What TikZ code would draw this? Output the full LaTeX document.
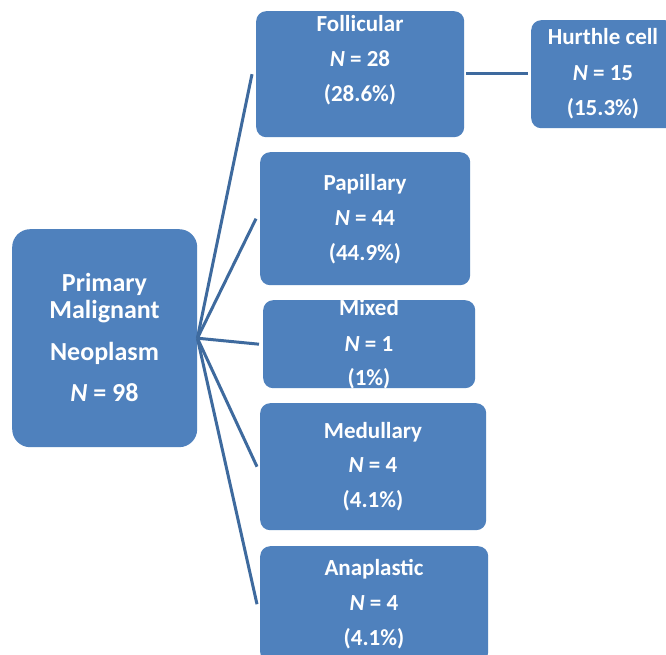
\documentclass[tikz,border=0pt]{standalone}
\usepackage{fontspec}
\setmainfont{Carlito}
\usetikzlibrary{calc}
\definecolor{boxblue}{RGB}{79,129,189}
\definecolor{lineblue}{RGB}{62,106,158}
\tikzset{
  box/.style={rectangle, rounded corners=10pt, fill=boxblue, draw=none, inner sep=0pt, anchor=north west},
  mainbox/.style={box, rounded corners=18pt},
  txt/.style={anchor=base, inner sep=0pt, text=white, font=\fontsize{23}{27}\selectfont\bfseries},
  maintxt/.style={txt, font=\fontsize{26}{30}\selectfont\bfseries},
  conn/.style={draw=lineblue, line width=3pt}
}
\begin{document}
\begin{tikzpicture}[x=1pt, y=-1pt]
\clip (0,0) rectangle (666,655);
\fill[white] (0,0) rectangle (666,655);
% boxes
\node[mainbox, minimum width=185pt, minimum height=218pt] (main) at (12,229) {};
\node[box, minimum width=208pt, minimum height=126pt] (fol) at (256,11) {};
\node[box, minimum width=144pt, minimum height=108pt] (hur) at (531,20) {};
\node[box, minimum width=210pt, minimum height=133pt] (pap) at (260,152) {};
\node[box, minimum width=212pt, minimum height=88pt] (mix) at (263,300) {};
\node[box, minimum width=226pt, minimum height=127pt] (med) at (260,403) {};
\node[box, minimum width=228pt, minimum height=116pt] (ana) at (260,546) {};
% connectors
\coordinate (hub) at (main.east);
\draw[conn] (hub) -- ($(fol.west)+(-4,0)$);
\draw[conn] (hub) -- ($(pap.west)+(-4,0)$);
\draw[conn] (hub) -- ($(mix.west)+(-4,0)$);
\draw[conn] (hub) -- ($(med.west)+(-3,0)$);
\draw[conn] (hub) -- ($(ana.west)+(-3,0)$);
\draw[conn] ($(fol.east)+(2,-1)$) -- ($(hur.west)+(-3,-1)$);
% main text
\node[maintxt] (m1) at (104.5,291) {Primary};
\node[maintxt] (m2) at (104.5,318) {Malignant};
\node[maintxt] (m3) at (104.5,360) {Neoplasm};
\node[maintxt] (m4) at (104.5,401) {\textit{N} = 98};
% follicular
\node[txt] (f1) at (360,32) {Follicular};
\node[txt] (f2) at (360,67) {\textit{N} = 28};
\node[txt] (f3) at (360,102) {(28.6\%)};
% hurthle
\node[txt] (h1) at (603,45) {Hurthle cell};
\node[txt] (h2) at (603,81) {\textit{N} = 15};
\node[txt] (h3) at (603,116) {(15.3\%)};
% papillary
\node[txt] (p1) at (365,190) {Papillary};
\node[txt] (p2) at (365,225) {\textit{N} = 44};
\node[txt] (p3) at (365,260) {(44.9\%)};
% mixed
\node[txt] (x1) at (369,315) {Mixed};
\node[txt] (x2) at (369,351) {\textit{N} = 1};
\node[txt] (x3) at (369,385) {(1\%)};
% medullary
\node[txt] (d1) at (373,438) {Medullary};
\node[txt] (d2) at (373,472) {\textit{N} = 4};
\node[txt] (d3) at (373,507) {(4.1\%)};
% anaplastic
\node[txt] (a1) at (374,575) {Anaplastic};
\node[txt] (a2) at (374,610) {\textit{N} = 4};
\node[txt] (a3) at (374,645) {(4.1\%)};
\end{tikzpicture}
\end{document}
